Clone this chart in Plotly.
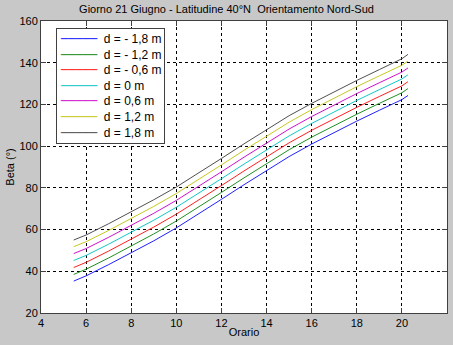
import plotly.graph_objects as go

### Data

orario = [5.45, 6, 7, 8, 9, 10, 11, 12, 13, 14, 15, 16, 17, 18, 19, 20, 20.27]

beta_m18 = [35.3, 37.8, 43.2, 48.8, 54.6, 60.8, 67.5, 74.5, 81.5, 88.3, 95.0, 101.0, 106.7, 112.0, 117.2, 122.3, 124.3]
beta_m12 = [38.5, 41.0, 46.4, 52.0, 57.9, 64.1, 70.8, 77.8, 84.8, 91.6, 98.3, 104.3, 110.0, 115.3, 120.5, 125.6, 127.6]
beta_m06 = [41.8, 44.3, 49.7, 55.3, 61.2, 67.4, 74.1, 81.1, 88.1, 94.9, 101.6, 107.6, 113.3, 118.6, 123.8, 128.9, 130.9]
beta_0 = [45.2, 47.6, 53.0, 58.6, 64.5, 70.7, 77.4, 84.4, 91.4, 98.2, 104.9, 110.9, 116.6, 121.9, 127.1, 132.2, 134.2]
beta_p06 = [48.5, 50.9, 56.3, 61.9, 67.8, 74.0, 80.7, 87.7, 94.7, 101.5, 108.2, 114.2, 119.9, 125.2, 130.4, 135.5, 137.5]
beta_p12 = [51.8, 54.2, 59.6, 65.2, 71.1, 77.3, 84.0, 91.0, 98.0, 104.8, 111.5, 117.5, 123.2, 128.5, 133.7, 138.8, 140.8]
beta_p18 = [55.0, 57.4, 62.8, 68.4, 74.3, 80.4, 87.1, 94.1, 101.1, 107.9, 114.6, 120.5, 126.2, 131.5, 136.7, 141.9, 144.0]

labels = ['d = - 1,8 m', 'd = - 1,2 m', 'd = - 0,6 m', 'd = 0 m', 'd = 0,6 m', 'd = 1,2 m', 'd = 1,8 m']
series = [beta_m18, beta_m12, beta_m06, beta_0, beta_p06, beta_p12, beta_p18]
colors = ['#2020ff', '#209020', '#ff2020', '#10c8c8', '#d010d0', '#c8c820', '#505050']

x_ticks = [4, 6, 8, 10, 12, 14, 16, 18, 20, 22]
y_ticks = [20, 40, 60, 80, 100, 120, 140, 160]

### Plot

fig = go.Figure()
for name, vals, col in zip(labels, series, colors):
    fig.add_trace(go.Scatter(x=orario, y=vals, mode='lines', name=name,
                             line=dict(color=col, width=1), showlegend=False))

# matlab-like compact legend box (plotly's own legend rows are too tall)
legend_rows = ['<span style="font-family:DejaVu Sans">'
               f'<span style="color:{c}">─────</span></span>  {n}'
               for n, c in zip(labels, colors)]
fig.add_annotation(text='<br>'.join(legend_rows), xref='paper', yref='paper',
                   x=0.038, y=0.976, xanchor='left', yanchor='top', align='left',
                   showarrow=False, bgcolor='#ffffff', bordercolor='#404040',
                   borderwidth=1, borderpad=3, font=dict(size=12))

axis_style = dict(showline=True, linecolor='#404040', linewidth=1, mirror='ticks',
                  ticks='inside', ticklen=5, tickcolor='#404040',
                  showgrid=True, gridcolor='#000000', gridwidth=1, griddash='dot',
                  zeroline=False, automargin=False,
                  tickfont=dict(size=11, color='#000000'))

fig.update_layout(
    width=453, height=345,
    paper_bgcolor='#c8c8c8', plot_bgcolor='#ffffff',
    font=dict(family='Liberation Sans, Arial, sans-serif', size=11, color='#000000'),
    margin=dict(l=41, r=6, t=21, b=32),
    title=dict(text='Giorno 21 Giugno - Latitudine 40°N  Orientamento Nord-Sud',
               x=0.5, xanchor='center', y=0.985, yanchor='top', font=dict(size=11)),
)
fig.update_xaxes(range=[4, 22], tickvals=x_ticks, **axis_style,
                 title=dict(text='Orario', standoff=0, font=dict(size=11)))
fig.update_yaxes(range=[20, 160], tickvals=y_ticks, **axis_style,
                 title=dict(text='Beta (°)', standoff=2, font=dict(size=11)))

fig.write_html('out.html', config={'displayModeBar': False},
               post_script="document.body.style.margin='0';")
